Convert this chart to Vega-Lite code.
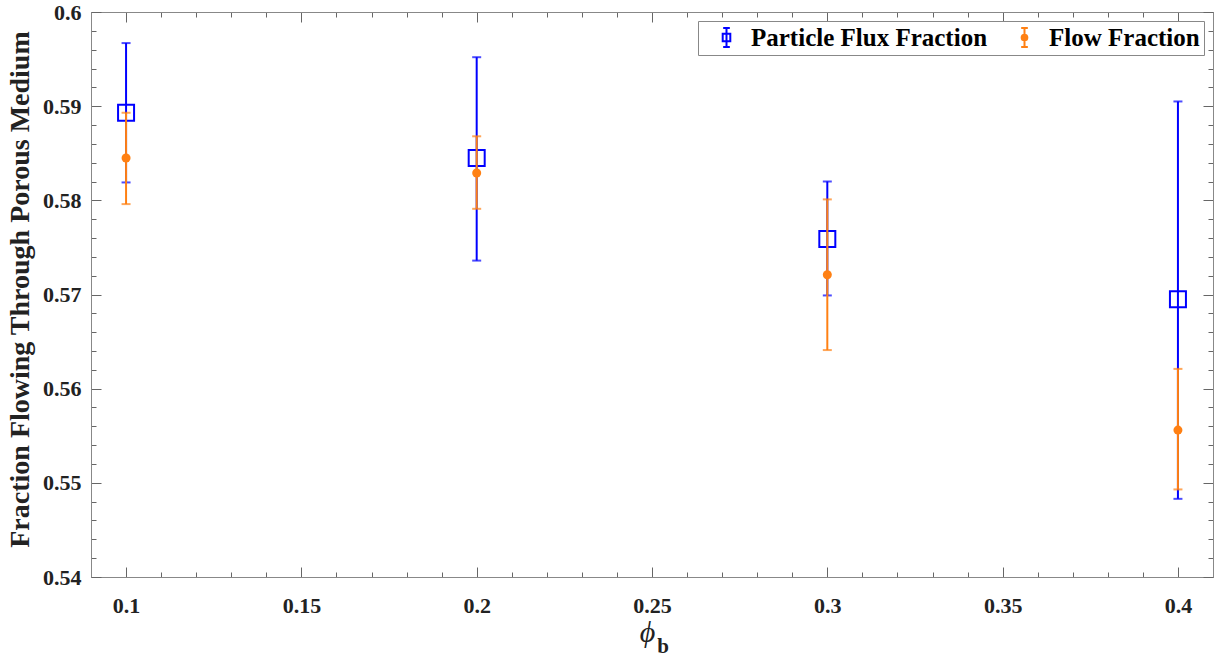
{
  "$schema": "https://vega.github.io/schema/vega-lite/v6.json",
  "width": 1122,
  "height": 565,
  "autosize": {"type": "none"},
  "padding": {"left": 91, "top": 12, "right": 8, "bottom": 81},
  "config": {
    "view": {"stroke": "#888888", "strokeWidth": 1},
    "font": "Liberation Serif",
    "axis": {
      "grid": false,
      "domainColor": "#888888",
      "tickColor": "#666666",
      "labelFont": "Liberation Serif",
      "labelFontWeight": "bold",
      "labelFontSize": 22,
      "labelColor": "#222222",
      "labelOverlap": false,
      "labelFlush": false,
      "labelBound": false
    },
    "legend": {
      "orient": "top-right",
      "offset": 9,
      "direction": "horizontal",
      "labelFont": "Liberation Serif",
      "labelFontWeight": "bold",
      "labelFontSize": 25,
      "labelColor": "#000000",
      "labelLimit": 400,
      "strokeColor": "#888888",
      "fillColor": "#ffffff",
      "padding": 4,
      "symbolOffset": 12,
      "columnPadding": 12,
      "labelOffset": 12,
      "symbolSize": 361,
      "symbolStrokeWidth": 2,
      "symbolOpacity": 1
    }
  },
  "data": {
    "values": [
      {"phi": 0.1, "series": "Particle Flux Fraction", "mean": 0.5893, "lo": 0.5819, "hi": 0.5967},
      {"phi": 0.2, "series": "Particle Flux Fraction", "mean": 0.5845, "lo": 0.5736, "hi": 0.5952},
      {"phi": 0.3, "series": "Particle Flux Fraction", "mean": 0.5759, "lo": 0.5699, "hi": 0.5820},
      {"phi": 0.4, "series": "Particle Flux Fraction", "mean": 0.5695, "lo": 0.5483, "hi": 0.5905},
      {"phi": 0.1, "series": "Flow Fraction", "mean": 0.5845, "lo": 0.5796, "hi": 0.5893},
      {"phi": 0.2, "series": "Flow Fraction", "mean": 0.5829, "lo": 0.5791, "hi": 0.5868},
      {"phi": 0.3, "series": "Flow Fraction", "mean": 0.5721, "lo": 0.5641, "hi": 0.5801},
      {"phi": 0.4, "series": "Flow Fraction", "mean": 0.5556, "lo": 0.5493, "hi": 0.5621}
    ]
  },
  "layer": [
    {
      "transform": [{"filter": "datum.series === 'Particle Flux Fraction'"}],
      "layer": [
        {
          "mark": {"type": "rule", "strokeWidth": 2, "color": "#0000FF"},
          "encoding": {
            "x": {
              "field": "phi", "type": "quantitative",
              "scale": {"domain": [0.09, 0.41], "nice": false, "zero": false},
              "axis": {
                "orient": "bottom",
                "title": "ϕ",
                "titleFont": "Liberation Serif",
                "titleFontStyle": "italic",
                "titleFontWeight": "normal",
                "titleFontSize": 30,
                "titleColor": "#222222",
                "titleX": 556,
                "titleY": 64,
                "titleAlign": "center",
                "titleBaseline": "alphabetic",
                "values": [0.09, 0.1, 0.11, 0.12, 0.13, 0.14, 0.15, 0.16, 0.17, 0.18, 0.19, 0.2, 0.21, 0.22, 0.23, 0.24, 0.25, 0.26, 0.27, 0.28, 0.29, 0.3, 0.31, 0.32, 0.33, 0.34, 0.35, 0.36, 0.37, 0.38, 0.39, 0.4, 0.41],
                "format": ".2~f",
                "labelOverlap": false,
                "labelExpr": "abs(datum.value*20 - round(datum.value*20)) < 0.001 ? datum.label : ''",
                "tickSize": {"condition": {"test": "abs(datum.value*20 - round(datum.value*20)) < 0.001", "value": -10}, "value": -5},
                "labelPadding": 28
              }
            },
            "y": {
              "field": "lo", "type": "quantitative",
              "scale": {"domain": [0.54, 0.6], "nice": false, "zero": false},
              "axis": {
                "orient": "left",
                "title": "Fraction Flowing Through Porous Medium",
                "titleFont": "Liberation Serif",
                "titleFontWeight": "bold",
                "titleFontSize": 28,
                "titleColor": "#222222",
                "titlePadding": 8,
                "titleY": 277,
                "values": [0.54, 0.542, 0.544, 0.546, 0.548, 0.55, 0.552, 0.554, 0.556, 0.558, 0.56, 0.562, 0.564, 0.566, 0.568, 0.57, 0.572, 0.574, 0.576, 0.578, 0.58, 0.582, 0.584, 0.586, 0.588, 0.59, 0.592, 0.594, 0.596, 0.598, 0.6],
                "format": ".2~f",
                "labelOverlap": false,
                "labelExpr": "abs(datum.value*100 - round(datum.value*100)) < 0.01 ? datum.label : ''",
                "tickSize": {"condition": {"test": "abs(datum.value*100 - round(datum.value*100)) < 0.01", "value": -10}, "value": -5},
                "labelPadding": 20
              }
            },
            "y2": {"field": "hi"}
          }
        },
        {
          "mark": {"type": "tick", "orient": "horizontal", "size": 9, "thickness": 2, "color": "#0000FF"},
          "encoding": {
            "x": {"field": "phi", "type": "quantitative", "axis": null},
            "y": {"field": "lo", "type": "quantitative", "axis": null}
          }
        },
        {
          "mark": {"type": "tick", "orient": "horizontal", "size": 9, "thickness": 2, "color": "#0000FF"},
          "encoding": {
            "x": {"field": "phi", "type": "quantitative", "axis": null},
            "y": {"field": "hi", "type": "quantitative", "axis": null}
          }
        },
        {
          "mark": {"type": "point", "shape": "square", "size": 256, "filled": false, "strokeWidth": 2, "color": "#0000FF", "opacity": 1},
          "encoding": {
            "x": {"field": "phi", "type": "quantitative", "axis": null},
            "y": {"field": "mean", "type": "quantitative", "axis": null}
          }
        }
      ],
      "resolve": {"axis": {"x": "independent", "y": "independent"}}
    },
    {
      "transform": [{"filter": "datum.series === 'Flow Fraction'"}],
      "layer": [
        {
          "mark": {"type": "rule", "strokeWidth": 2, "color": "#FF8013"},
          "encoding": {
            "x": {
              "field": "phi", "type": "quantitative",
              "axis": {
                "orient": "top", "title": null, "labels": false,
                "values": [0.09, 0.1, 0.11, 0.12, 0.13, 0.14, 0.15, 0.16, 0.17, 0.18, 0.19, 0.2, 0.21, 0.22, 0.23, 0.24, 0.25, 0.26, 0.27, 0.28, 0.29, 0.3, 0.31, 0.32, 0.33, 0.34, 0.35, 0.36, 0.37, 0.38, 0.39, 0.4, 0.41],
                "tickSize": {"condition": {"test": "abs(datum.value*20 - round(datum.value*20)) < 0.001", "value": -10}, "value": -5}
              }
            },
            "y": {
              "field": "lo", "type": "quantitative",
              "axis": {
                "orient": "right", "title": null, "labels": false,
                "values": [0.54, 0.542, 0.544, 0.546, 0.548, 0.55, 0.552, 0.554, 0.556, 0.558, 0.56, 0.562, 0.564, 0.566, 0.568, 0.57, 0.572, 0.574, 0.576, 0.578, 0.58, 0.582, 0.584, 0.586, 0.588, 0.59, 0.592, 0.594, 0.596, 0.598, 0.6],
                "tickSize": {"condition": {"test": "abs(datum.value*100 - round(datum.value*100)) < 0.01", "value": -10}, "value": -5}
              }
            },
            "y2": {"field": "hi"}
          }
        },
        {
          "mark": {"type": "tick", "orient": "horizontal", "size": 9, "thickness": 2, "color": "#FF8013"},
          "encoding": {
            "x": {"field": "phi", "type": "quantitative", "axis": null},
            "y": {"field": "lo", "type": "quantitative", "axis": null}
          }
        },
        {
          "mark": {"type": "tick", "orient": "horizontal", "size": 9, "thickness": 2, "color": "#FF8013"},
          "encoding": {
            "x": {"field": "phi", "type": "quantitative", "axis": null},
            "y": {"field": "hi", "type": "quantitative", "axis": null}
          }
        },
        {
          "mark": {"type": "point", "shape": "circle", "size": 81, "filled": true, "color": "#FF8013", "opacity": 1},
          "encoding": {
            "x": {"field": "phi", "type": "quantitative", "axis": null},
            "y": {"field": "mean", "type": "quantitative", "axis": null}
          }
        }
      ],
      "resolve": {"axis": {"x": "independent", "y": "independent"}}
    },
    {
      "mark": {"type": "point", "filled": false, "strokeWidth": 2, "opacity": 1, "clip": true},
      "encoding": {
        "x": {"field": "phi", "type": "quantitative", "axis": null},
        "y": {"field": "phi", "type": "quantitative", "axis": null},
        "stroke": {
          "field": "series", "type": "nominal", "title": null,
          "scale": {"domain": ["Particle Flux Fraction", "Flow Fraction"], "range": ["#0000FF", "#FF8013"]}
        },
        "shape": {
          "field": "series", "type": "nominal", "title": null,
          "scale": {"domain": ["Particle Flux Fraction", "Flow Fraction"], "range": ["M0,-1V1M-0.35,-1H0.35M-0.35,1H0.35M-0.4,-0.4H0.4V0.4H-0.4Z", "M0,-1V1M-0.35,-1H0.35M-0.35,1H0.35M0.3,0A0.3,0.3 0 1,1 -0.3,0A0.3,0.3 0 1,1 0.3,0Z"]}
        },
        "fill": {
          "field": "series", "type": "nominal", "title": null,
          "scale": {"domain": ["Particle Flux Fraction", "Flow Fraction"], "range": ["transparent", "#FF8013"]}
        }
      }
    },
    {
      "data": {"values": [{"label": "b"}]},
      "mark": {"type": "text", "font": "Liberation Serif", "fontWeight": "bold", "fontSize": 21, "dx": 11, "dy": 76, "baseline": "alphabetic", "align": "center", "color": "#222222", "clip": false},
      "encoding": {
        "text": {"field": "label", "type": "nominal"},
        "x": {"datum": 0.25, "type": "quantitative", "axis": null},
        "y": {"datum": 0.54, "type": "quantitative", "axis": null}
      }
    }
  ],
  "resolve": {
    "axis": {"x": "independent", "y": "independent"}
  }
}
